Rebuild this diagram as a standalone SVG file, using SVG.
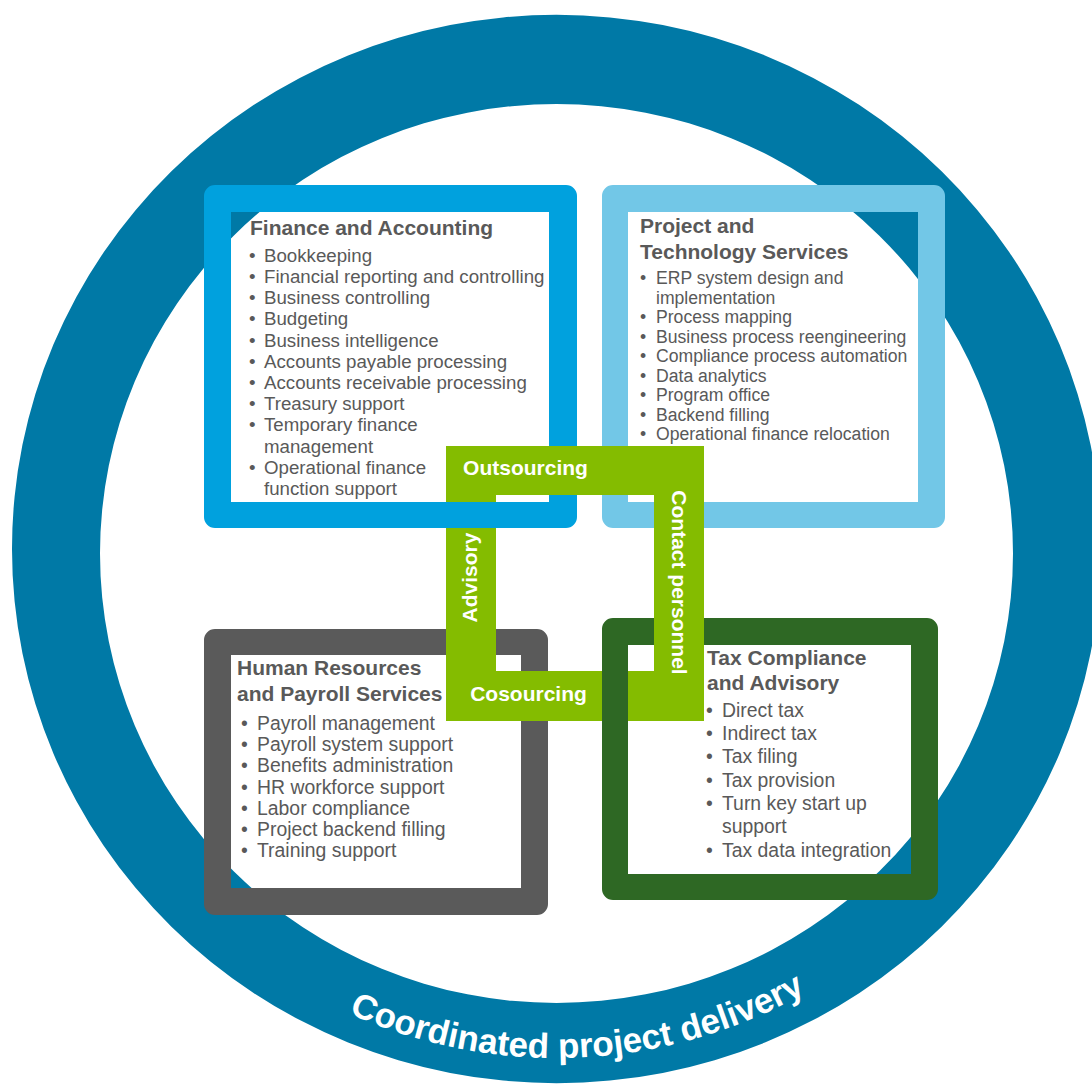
<svg xmlns="http://www.w3.org/2000/svg" width="1092" height="1085" viewBox="0 0 1092 1085">
  <style>
    text { font-family: "Liberation Sans", Arial, sans-serif; fill: #595959; }
    .title { font-size: 21px; font-weight: bold; }
    .fa { font-size: 18.7px; }
    .pt { font-size: 17.6px; }
    .hr { font-size: 19.4px; }
    .tx { font-size: 19.4px; }
    .lbl { font-size: 21px; font-weight: bold; fill: #ffffff; }
    .ringlbl { font-size: 35px; font-weight: bold; fill: #ffffff; }
    .bar { fill: #84BC00; }
  </style>
  <defs>
    <clipPath id="clipFin">
      <path clip-rule="evenodd" d="M0 0H1092V1085H0Z M446 446H704V495H446Z"/>
    </clipPath>
    <clipPath id="clipProj">
      <path clip-rule="evenodd" d="M0 0H1092V1085H0Z M446 446H704V721H654V495H446Z"/>
    </clipPath>
    <clipPath id="clipTax">
      <path clip-rule="evenodd" d="M0 0H1092V1085H0Z M654 446H704V721H654Z"/>
    </clipPath>
    <path id="ringArc" d="M348.7 1013.4 A507 507 0 0 0 847.3 966.3"/>
  </defs>

  <g id="ring">
    <path fill="#0079A6" fill-rule="evenodd" d="M12 549 A544.5 534 0 1 0 1101 549 A544.5 534 0 1 0 12 549 Z M100 553.5 A456.5 449.5 0 1 0 1013 553.5 A456.5 449.5 0 1 0 100 553.5 Z"/>
    <text class="ringlbl"><textPath href="#ringArc">Coordinated project delivery</textPath></text>
  </g>

  <g id="hr">
    <path fill="#5A5A5A" fill-rule="evenodd" d="M215 629 H537 A11 11 0 0 1 548 640 V904 A11 11 0 0 1 537 915 H215 A11 11 0 0 1 204 904 V640 A11 11 0 0 1 215 629 Z M231 655 H521 V888 H231 Z"/>
    <text class="title" x="237" y="675">Human Resources</text>
    <text class="title" x="237" y="701">and Payroll Services</text>
    <g class="hr">
      <text x="241" y="730">•</text><text x="257" y="730">Payroll management</text>
      <text x="241" y="751.2">•</text><text x="257" y="751.2">Payroll system support</text>
      <text x="241" y="772.4">•</text><text x="257" y="772.4">Benefits administration</text>
      <text x="241" y="793.6">•</text><text x="257" y="793.6">HR workforce support</text>
      <text x="241" y="814.8">•</text><text x="257" y="814.8">Labor compliance</text>
      <text x="241" y="836">•</text><text x="257" y="836">Project backend filling</text>
      <text x="241" y="857.2">•</text><text x="257" y="857.2">Training support</text>
    </g>
  </g>

  <g id="connectors">
    <rect class="bar" x="446" y="446" width="50" height="275"/>
    <rect class="bar" x="446" y="671" width="258" height="50"/>
    <rect class="bar" x="446" y="446" width="258" height="49"/>
    <rect class="bar" x="654" y="446" width="50" height="275"/>
    <text class="lbl" x="525.5" y="475" text-anchor="middle">Outsourcing</text>
    <text class="lbl" x="528.5" y="700.5" text-anchor="middle">Cosourcing</text>
    <text class="lbl" text-anchor="middle" transform="translate(477 577.5) rotate(-90)">Advisory</text>
    <text class="lbl" text-anchor="middle" transform="translate(671.5 582.5) rotate(90)">Contact personnel</text>
  </g>

  <g id="finance">
    <path fill="#00A1DE" fill-rule="evenodd" clip-path="url(#clipFin)" d="M215 185 H566 A11 11 0 0 1 577 196 V517 A11 11 0 0 1 566 528 H215 A11 11 0 0 1 204 517 V196 A11 11 0 0 1 215 185 Z M231 212 H549 V502 H231 Z"/>
    <text class="title" x="250" y="235">Finance and Accounting</text>
    <g class="fa">
      <text x="249" y="261.7">•</text><text x="264" y="261.7">Bookkeeping</text>
      <text x="249" y="282.9">•</text><text x="264" y="282.9">Financial reporting and controlling</text>
      <text x="249" y="304.1">•</text><text x="264" y="304.1">Business controlling</text>
      <text x="249" y="325.3">•</text><text x="264" y="325.3">Budgeting</text>
      <text x="249" y="346.5">•</text><text x="264" y="346.5">Business intelligence</text>
      <text x="249" y="367.7">•</text><text x="264" y="367.7">Accounts payable processing</text>
      <text x="249" y="388.9">•</text><text x="264" y="388.9">Accounts receivable processing</text>
      <text x="249" y="410.1">•</text><text x="264" y="410.1">Treasury support</text>
      <text x="249" y="431.3">•</text><text x="264" y="431.3">Temporary finance</text>
      <text x="264" y="452.5">management</text>
      <text x="249" y="473.7">•</text><text x="264" y="473.7">Operational finance</text>
      <text x="264" y="494.9">function support</text>
    </g>
  </g>

  <g id="project">
    <path fill="#72C7E7" fill-rule="evenodd" clip-path="url(#clipProj)" d="M613 185 H934 A11 11 0 0 1 945 196 V517 A11 11 0 0 1 934 528 H613 A11 11 0 0 1 602 517 V196 A11 11 0 0 1 613 185 Z M628 212 H918 V502 H628 Z"/>
    <text class="title" x="640" y="233.3">Project and</text>
    <text class="title" x="640" y="259">Technology Services</text>
    <g class="pt">
      <text x="640" y="284">•</text><text x="656" y="284">ERP system design and</text>
      <text x="656" y="303.5">implementation</text>
      <text x="640" y="323">•</text><text x="656" y="323">Process mapping</text>
      <text x="640" y="342.5">•</text><text x="656" y="342.5">Business process reengineering</text>
      <text x="640" y="362">•</text><text x="656" y="362">Compliance process automation</text>
      <text x="640" y="381.5">•</text><text x="656" y="381.5">Data analytics</text>
      <text x="640" y="401">•</text><text x="656" y="401">Program office</text>
      <text x="640" y="420.5">•</text><text x="656" y="420.5">Backend filling</text>
      <text x="640" y="440">•</text><text x="656" y="440">Operational finance relocation</text>
    </g>
  </g>

  <g id="tax">
    <path fill="#2E6824" fill-rule="evenodd" clip-path="url(#clipTax)" d="M613 618 H927 A11 11 0 0 1 938 629 V889 A11 11 0 0 1 927 900 H613 A11 11 0 0 1 602 889 V629 A11 11 0 0 1 613 618 Z M628 645 H911 V874 H628 Z"/>
    <text class="title" x="707" y="665">Tax Compliance</text>
    <text class="title" x="707" y="690">and Advisory</text>
    <g class="tx">
      <text x="706" y="716.7">•</text><text x="722" y="716.7">Direct tax</text>
      <text x="706" y="740">•</text><text x="722" y="740">Indirect tax</text>
      <text x="706" y="763.4">•</text><text x="722" y="763.4">Tax filing</text>
      <text x="706" y="786.7">•</text><text x="722" y="786.7">Tax provision</text>
      <text x="706" y="810.1">•</text><text x="722" y="810.1">Turn key start up</text>
      <text x="722" y="833.4">support</text>
      <text x="706" y="856.8">•</text><text x="722" y="856.8">Tax data integration</text>
    </g>
  </g>
</svg>
